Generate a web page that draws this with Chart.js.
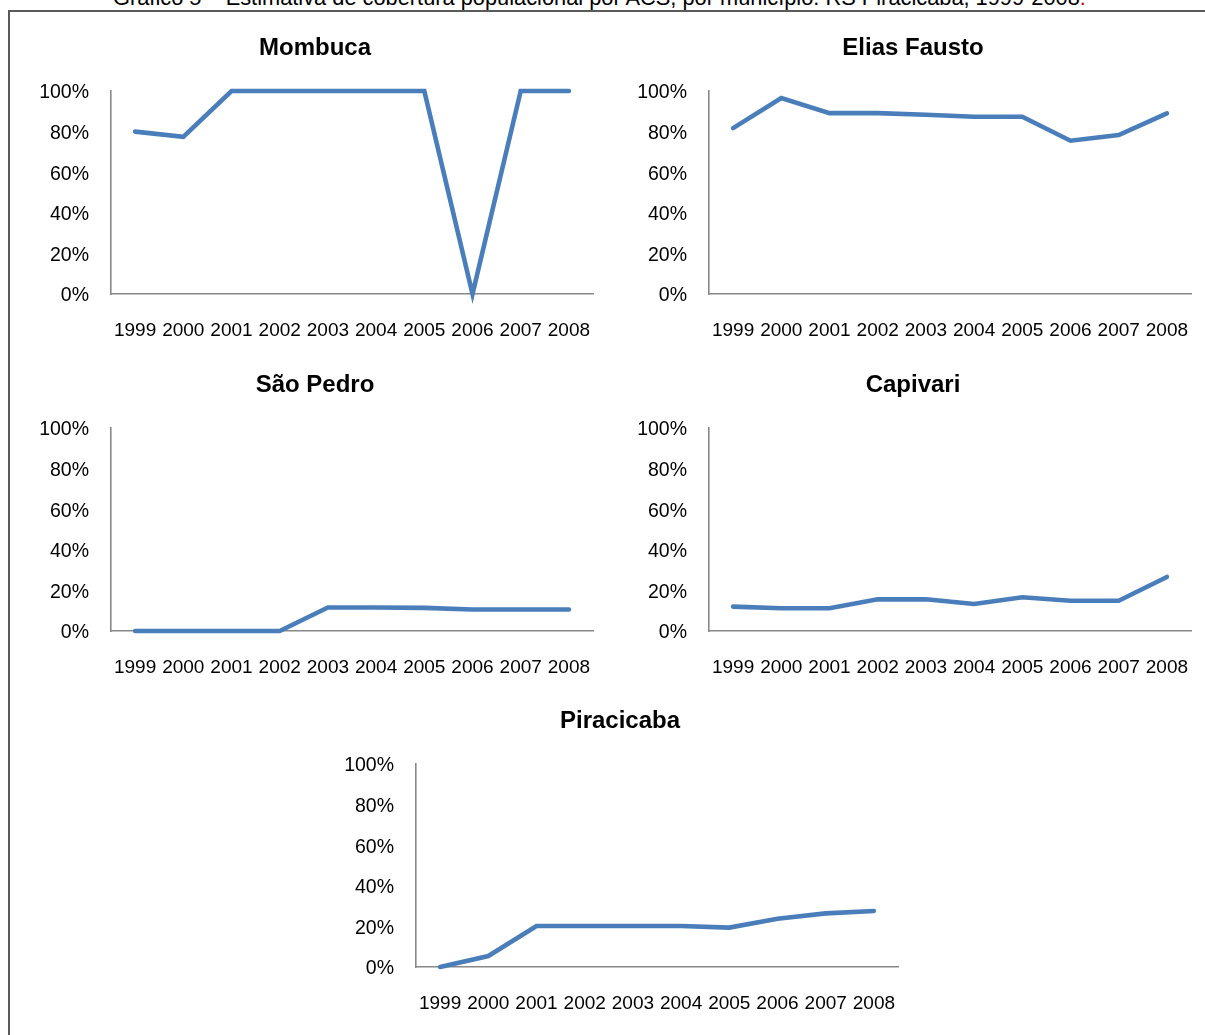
<!DOCTYPE html>
<html>
<head>
<meta charset="utf-8">
<script src="https://cdn.jsdelivr.net/npm/chart.js@4/dist/chart.umd.min.js"></script>
<style>
  html, body { margin: 0; padding: 0; background: #fff; }
  body { width: 1205px; height: 1035px; position: relative; overflow: hidden; font-family: 'Liberation Sans', Arial, sans-serif; }
  #caption { position: absolute; left: 113px; top: -13px; font-size: 21.8px; line-height: 21px; color: #000; white-space: nowrap; }
  #caption .dot { color: #e00000; }
  #frame { position: absolute; left: 8px; top: 10px; width: 1300px; height: 1100px; border: 2px solid #5a5a5a; box-sizing: border-box; }
  canvas { position: absolute; }
</style>
</head>
<body>
<div id="caption">Gráfico 5 – Estimativa de cobertura populacional por ACS, por município. RS Piracicaba, 1999-2008<span class="dot">.</span></div>
<div id="frame"></div>
<canvas id="c1" width="590" height="334" style="left:20px;top:10px"></canvas>
<canvas id="c2" width="590" height="334" style="left:618px;top:10px"></canvas>
<canvas id="c3" width="590" height="334" style="left:20px;top:347px"></canvas>
<canvas id="c4" width="590" height="334" style="left:618px;top:347px"></canvas>
<canvas id="c5" width="590" height="334" style="left:325px;top:683px"></canvas>
<script>
// Years on the horizontal axis
const years = ['1999', '2000', '2001', '2002', '2003', '2004', '2005', '2006', '2007', '2008'];

// Estimated ACS population coverage (%) per municipality
const mombuca     = [80, 77.4, 100, 100, 100, 100, 100, 0, 100, 100];
const eliasFausto = [81.7, 96.5, 89.1, 89.1, 88.3, 87.3, 87.3, 75.5, 78.3, 89];
const saoPedro    = [0, 0, 0, 0, 11.6, 11.6, 11.4, 10.6, 10.6, 10.6];
const capivari    = [12, 11.2, 11.2, 15.6, 15.6, 13.3, 16.6, 14.9, 14.9, 26.6];
const piracicaba  = [0, 5.4, 20.2, 20.2, 20.2, 20.2, 19.4, 23.8, 26.4, 27.6];

// Value-axis ticks
const yTicks = [0, 20, 40, 60, 80, 100];

const FONT = "'Liberation Sans', Arial, sans-serif";
const LINE_COLOR = '#4a7ebb';
const AXIS_COLOR = '#888888';

function drawPanel(id, title, values) {
  new Chart(document.getElementById(id), {
    type: 'line',
    data: {
      labels: years,
      datasets: [{
        label: title,
        data: values,
        yAxisID: 'y',
        borderColor: LINE_COLOR,
        borderWidth: 4.6,
        borderCapStyle: 'round',
        pointRadius: 0,
        pointHoverRadius: 0,
        tension: 0,
        fill: false,
        clip: false
      }]
    },
    options: {
      responsive: false,
      animation: false,
      events: [],
      layout: { padding: 0 },
      plugins: {
        legend: { display: false },
        tooltip: { enabled: false },
        title: {
          display: true,
          text: title,
          color: '#000',
          font: { family: FONT, size: 24, weight: 'bold', lineHeight: 1.2 },
          padding: { top: 23.6, bottom: 28.6 }
        }
      },
      scales: {
        x: {
          offset: true,
          // invisible tick marks keep the year labels clear of the axis line
          grid: { display: true, drawOnChartArea: false, drawTicks: true, tickLength: 25, color: 'rgba(0,0,0,0)' },
          border: { display: true, color: AXIS_COLOR, width: 1.6 },
          ticks: {
            color: '#000',
            padding: 0,
            maxRotation: 0,
            autoSkip: false,
            font: { family: FONT, size: 19 }
          },
          afterFit(scale) { scale.height = 50; }
        },
        y: {
          min: 0,
          max: 100,
          afterBuildTicks(scale) { scale.ticks = yTicks.map(v => ({ value: v })); },
          grid: { display: false, drawTicks: false },
          border: { display: true, color: AXIS_COLOR, width: 1.6 },
          ticks: {
            color: '#000',
            padding: 22,
            labelOffset: 2,
            font: { family: FONT, size: 19.5 },
            callback: v => v + '%'
          },
          afterFit(scale) { scale.width = 91; }
        },
        // blank margin to the right of the plot area
        gap: {
          position: 'right',
          display: true,
          grid: { display: false, drawTicks: false },
          border: { display: false },
          ticks: { display: false },
          afterFit(scale) { scale.width = 17; }
        }
      }
    }
  });
}

drawPanel('c1', 'Mombuca', mombuca);
drawPanel('c2', 'Elias Fausto', eliasFausto);
drawPanel('c3', 'São Pedro', saoPedro);
drawPanel('c4', 'Capivari', capivari);
drawPanel('c5', 'Piracicaba', piracicaba);
</script>
</body>
</html>
